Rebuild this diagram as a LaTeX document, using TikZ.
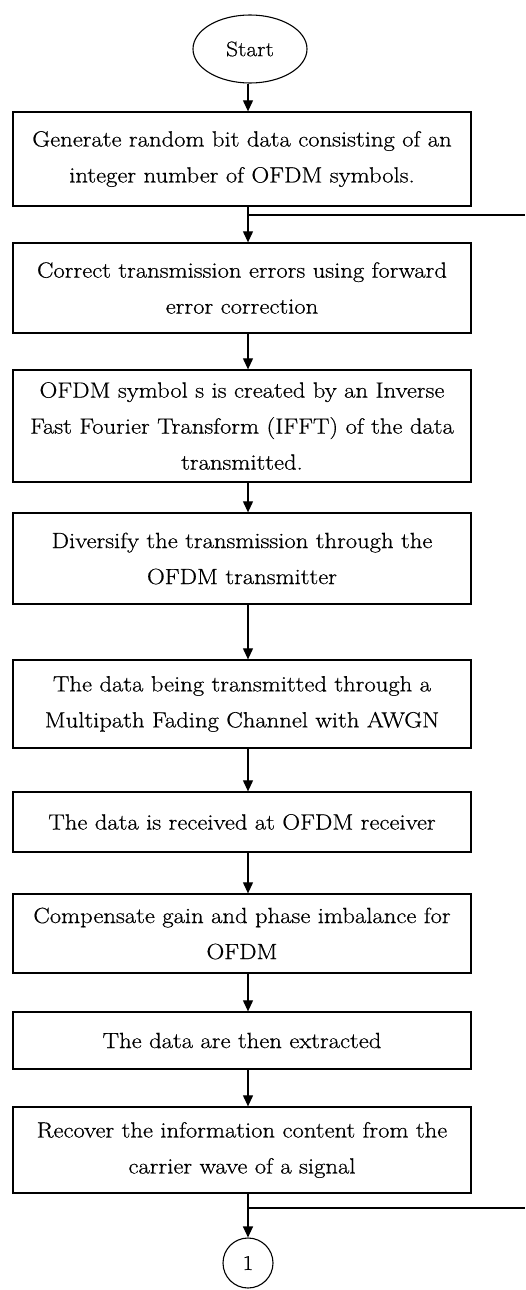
\documentclass[tikz,border=0pt]{standalone}
\usepackage{fontspec}
\setmainfont{Latin Modern Roman}[FakeStretch=1.12,FakeBold=0.6]
\usetikzlibrary{arrows.meta,shapes.geometric}
\begin{document}
\begin{tikzpicture}[x=1pt,y=-1pt,
  stepbox/.style={draw,line width=1.3pt,minimum width=458pt,align=center,inner sep=0pt,
    font=\fontsize{22}{36}\selectfont},
  arr/.style={line width=1.1pt,-{Triangle[length=11pt,width=10pt]}},
  ln/.style={line width=1.1pt}]
\useasboundingbox (0,0) rectangle (525,1290);
\node[draw,ellipse,line width=1.1pt,minimum width=114pt,minimum height=68pt,inner sep=0pt,
  font=\fontsize{21}{24}\selectfont] (start) at (250,49) {Start};
\node[stepbox,minimum height=94pt] (b1) at (242,159) {Generate random bit data consisting of an\\integer number of OFDM symbols.};
\node[stepbox,minimum height=90pt] (b2) at (242,288) {Correct transmission errors using forward\\error correction};
\node[stepbox,minimum height=112pt] (b3) at (242,426) {OFDM symbol s is created by an Inverse\\Fast Fourier Transform (IFFT) of the data\\transmitted.};
\node[stepbox,minimum height=91pt] (b4) at (242,558.5) {Diversify the transmission through the\\OFDM transmitter};
\node[stepbox,minimum height=88pt] (b5) at (242,704) {The data being transmitted through a\\Multipath Fading Channel with AWGN};
\node[stepbox,minimum height=60pt] (b6) at (242,822) {The data is received at OFDM receiver};
\node[stepbox,minimum height=79pt] (b7) at (242,933.5) {Compensate gain and phase imbalance for\\OFDM};
\node[stepbox,minimum height=57pt] (b8) at (242,1040.5) {The data are then extracted};
\node[stepbox,minimum height=86pt] (b9) at (242,1150) {Recover the information content from the\\carrier wave of a signal};
\node[draw,circle,line width=1.1pt,minimum size=50pt,inner sep=0pt,
  font=\fontsize{21}{24}\selectfont] (c1) at (248,1263) {1};
\coordinate (ax) at (248,0);
\coordinate (j1) at (248,215);
\coordinate (e1) at (525,215);
\coordinate (j2) at (248,1208);
\coordinate (e2) at (525,1208);
\draw[arr] (start.south -| ax) -- (b1.north -| ax);
\draw[arr] (b1.south -| ax) -- (b2.north -| ax);
\draw[ln] (j1) -- (e1);
\draw[arr] (b2.south -| ax) -- (b3.north -| ax);
\draw[arr] (b3.south -| ax) -- (b4.north -| ax);
\draw[arr] (b4.south -| ax) -- (b5.north -| ax);
\draw[arr] (b5.south -| ax) -- (b6.north -| ax);
\draw[arr] (b6.south -| ax) -- (b7.north -| ax);
\draw[arr] (b7.south -| ax) -- (b8.north -| ax);
\draw[arr] (b8.south -| ax) -- (b9.north -| ax);
\draw[arr] (b9.south -| ax) -- (c1.north);
\draw[ln] (j2) -- (e2);
\end{tikzpicture}
\end{document}
